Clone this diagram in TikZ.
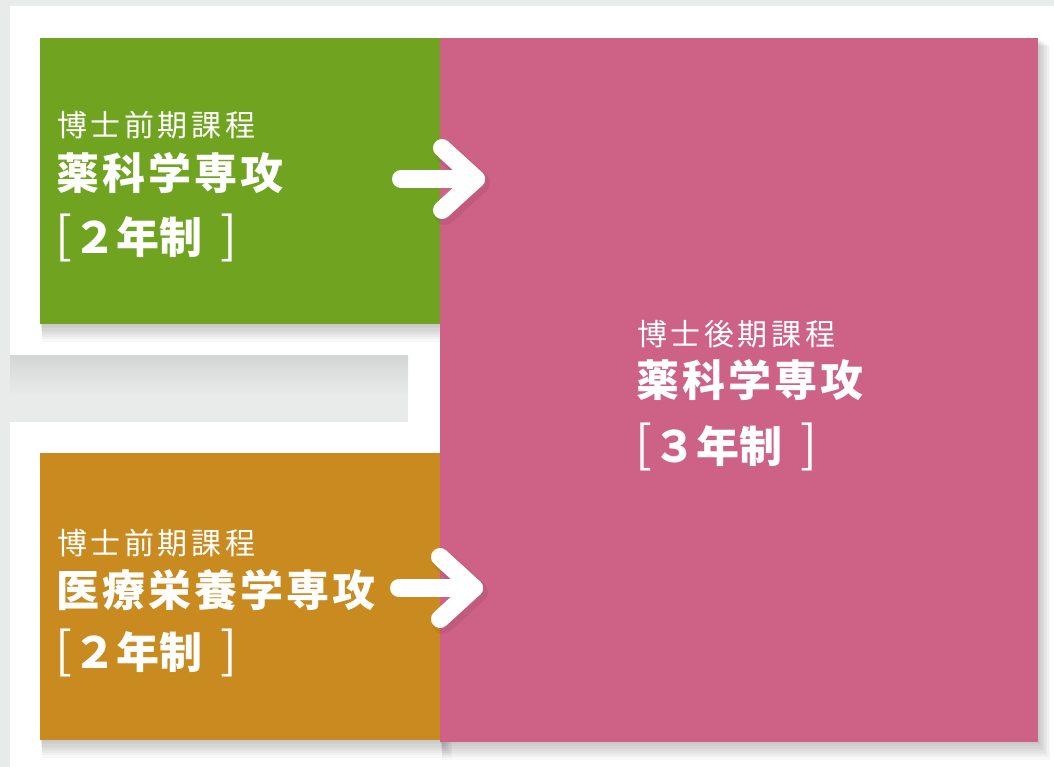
\documentclass[tikz,border=0pt]{standalone}
\usepackage{fontspec}
\newfontfamily\jp{Noto Sans CJK JP}
\usetikzlibrary{calc}
\definecolor{bggray}{RGB}{232,235,233}
\definecolor{kgreen}{RGB}{112,164,32}
\definecolor{korange}{RGB}{201,139,32}
\definecolor{kpink}{RGB}{206,97,134}
\tikzset{
  box/.style={anchor=north west, inner sep=0pt, outer sep=0pt},
  course/.style={anchor=west, inner sep=0pt, text=white,
    font=\jp\fontsize{30}{36}\selectfont\addfontfeature{LetterSpace=12}},
  major/.style={anchor=west, inner sep=0pt, text=white,
    font=\jp\bfseries\fontsize{43}{50}\selectfont\addfontfeature{LetterSpace=7}},
  years/.style={anchor=west, inner sep=0pt, text=white,
    font=\jp\bfseries\fontsize{43}{50}\selectfont},
  arr/.style={white, line width=18pt, line cap=round, line join=round},
  arrshade/.style={black, opacity=0.06, line width=22pt, line cap=round, line join=round}
}
\newcommand{\yearsText}[1]{{\mdseries\fontsize{50}{50}\selectfont[}\hspace{1pt}#1\hspace{18pt}{\mdseries\fontsize{50}{50}\selectfont]}}
\newcommand{\boxshadow}[4]{\foreach \d in {1,...,8}{\fill[black,opacity=0.026] (#1+0.3*\d,#2+\d) rectangle (#3+1.5*\d,#4+2.2*\d);}}
\begin{document}
\begin{tikzpicture}[x=1pt,y=-1pt]
    \useasboundingbox (0,0) rectangle (1054,767);
    \fill[bggray] (0,0) rectangle (1054,767);
    \fill[white] (10,6) -| (1054,767) -| (10,422) -- (408,422) -- (408,355) -- (10,355) -- cycle;
    \shade[top color=black!9!bggray, bottom color=bggray] (10,355) rectangle (408,395);
    \boxshadow{440}{38}{1038}{742}
    \boxshadow{40}{38}{440}{324}
    \boxshadow{40}{453}{440}{740}
    \node[box, fill=kpink, minimum width=598pt, minimum height=704pt] (pink) at (440,38) {};
    \node[box, fill=kgreen, minimum width=400pt, minimum height=286pt] (green) at (40,38) {};
    \node[box, fill=korange, minimum width=400pt, minimum height=287pt] (orange) at (40,453) {};
    \node[course] (g1) at (57,125) {博士前期課程};
    \node[major] (g2) at (56,173) {薬科学専攻};
    \node[years] (g3) at (55,238) {\yearsText{２年制}};
    \node[course] (o1) at (57,543) {博士前期課程};
    \node[major] (o2) at (56,590) {医療栄養学専攻};
    \node[years] (o3) at (55,653) {\yearsText{２年制}};
    \node[course] (p1) at (637,334) {博士後期課程};
    \node[major] (p2) at (636,380) {薬科学専攻};
    \node[years] (p3) at (635,447) {\yearsText{３年制}};
    \coordinate (gs) at (401,179);
    \coordinate (gt) at (476,179);
    \coordinate (os) at (399,588);
    \coordinate (ot) at (474,588);
    \begin{scope}[transform canvas={shift={(3pt,-4pt)}}]
        \draw[arrshade] ($(gt)+(-34,-31)$) -- (gt) -- ($(gt)+(-34,31)$);
        \draw[arrshade] ($(ot)+(-34,-31)$) -- (ot) -- ($(ot)+(-34,31)$);
    \end{scope}
    \draw[arr] (gs) -- (gt);
    \draw[arr] ($(gt)+(-34,-31)$) -- (gt) -- ($(gt)+(-34,31)$);
    \draw[arr] (os) -- (ot);
    \draw[arr] ($(ot)+(-34,-31)$) -- (ot) -- ($(ot)+(-34,31)$);
\end{tikzpicture}
\end{document}
